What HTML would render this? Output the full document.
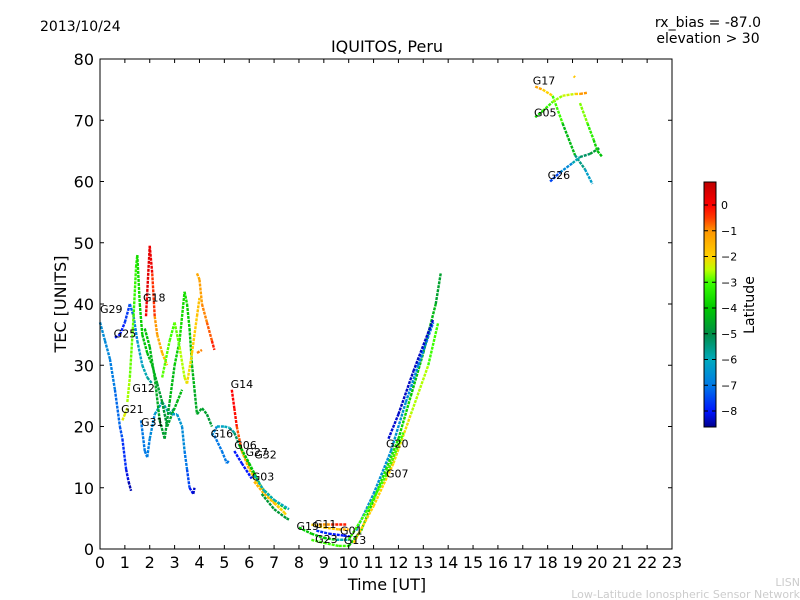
<!DOCTYPE html>
<html><head><meta charset="utf-8"><style>
body{margin:0;background:#fff;}
svg{display:block;font-family:"DejaVu Sans","Liberation Sans",sans-serif;}
</style></head><body>
<svg id="chart" width="800" height="600" viewBox="0 0 800 600">
<defs><linearGradient id="jet" x1="0" y1="1" x2="0" y2="0"></linearGradient></defs>
<text x="40" y="31" font-size="14">2013/10/24</text>
<text x="708" y="27" font-size="14" text-anchor="middle">rx_bias = -87.0</text>
<text x="708" y="43" font-size="14" text-anchor="middle">elevation &gt; 30</text>
<text x="387" y="52" font-size="16" text-anchor="middle">IQUITOS, Peru</text>
<text x="387" y="590" font-size="16" text-anchor="middle">Time [UT]</text>
<text x="66" y="304" font-size="16" text-anchor="middle" transform="rotate(-90 66 304)">TEC [UNITS]</text>
<text x="800" y="586" font-size="11" fill="#ccc" text-anchor="end">LISN</text>
<text x="800" y="598" font-size="11" fill="#ccc" text-anchor="end">Low-Latitude Ionospheric Sensor Network</text>
<g id="marks"></g>
<g id="axes"></g>
<rect x="704" y="182" width="12" height="245" fill="url(#jet)" stroke="#000" stroke-width="1"/>
<g id="cbar"></g>
<text x="754" y="305" font-size="14" text-anchor="middle" transform="rotate(-90 754 305)">Latitude</text>
</svg>
<script>
const xTicks=[0,1,2,3,4,5,6,7,8,9,10,11,12,13,14,15,16,17,18,19,20,21,22,23];
const yTicks=[0,10,20,30,40,50,60,70,80];
const cbTicks=[0,-1,-2,-3,-4,-5,-6,-7,-8];
const satNames=["G29","G25","G31","G12","G21","G18","GRN1","YEL1","ORG1","ORG2","CYN1","G16","G16B","G14","G06","G27","ORG3","YEL2","CYN2","DGR1","G01","G11","BLU1","G19","G23","G13B","G13","YEL3","CYN3","G20","G07","LIM1","G17","G05","G26","DOT1","G05B"];
const satTimes=[
[0,0.2,0.4,0.6,0.8,0.9,1.05,1.15,1.25],
[0.6,0.8,1.0,1.2,1.35,1.5,1.7,1.9,2.1],
[1.65,1.8,1.9,2.0,2.2,2.5,2.8,3.0],
[1.1,1.2,1.35,1.45,1.5,1.6,1.7,1.9,2.1,2.3,2.5,2.7,2.9,3.1,3.3],
[0.9,1.0,1.1],
[1.85,1.9,2.0,2.1,2.2,2.3,2.5,2.7],
[1.8,2.0,2.2,2.4,2.6,2.8,3.0,3.2,3.4,3.5,3.6,3.7,3.8,3.9,4.1,4.3,4.5],
[2.5,2.8,3.0,3.2,3.4,3.5,3.7,3.9,4.0],
[3.9,4.0,4.1,4.3,4.5,4.6],
[3.9,4.1],
[2.9,3.1,3.3,3.4,3.5,3.6,3.75,3.8],
[4.5,4.7,5.0,5.2,5.4,5.6,5.9,6.2],
[4.6,4.9,5.1,5.2],
[5.3,5.4,5.5,5.7,6.0,6.3],
[5.4,5.7,6.1],
[5.6,6.0,6.5,7.0,7.5],
[6.2,6.6,7.0,7.4],
[6.3,6.8,7.4,7.5],
[6.2,6.6,7.0,7.6],
[6.5,7.0,7.5,7.6],
[8.8,9.3,9.9],
[8.5,9.0,9.6,10.0],
[8.7,9.2,9.8,10.1],
[8.0,8.5,9.0,9.5,10.0],
[8.5,9.0,9.6,10.0],
[9.5,10.0],
[10.0,10.5,11,11.5,12,12.5,13,13.5,13.7],
[10.2,11,11.8,12.5,13.2,13.6],
[10.3,11,11.7,12.3,12.8,13.4],
[11.6,12.0,12.6,13.4],
[11.5,11.8,12.0],
[10.0,10.7,11.5,12.2],
[17.5,17.8,18.2,18.6,19.1,19.5,19.8],
[17.5,17.8,18.2,18.6,19.1,19.3,19.6],
[18.1,18.5,19.0,19.3,19.7,20.1],
[19.05,19.1],
[19.3,19.6,19.85,20.0,20.2]
];
const satTec=[
[37,34,31,26,20,18,13,11,9.5],
[34.5,35,37,40,38,34,30,28,27],
[21,16,15,18,22,24,22,23],
[24,28,38,46,48,40,35,32,30,27,24,20,22,24,26],
[21,22,23],
[38,42,49.5,45,38,35,32,30],
[36,33,28,21,18,24,30,34,42,40,36,30,26,22,23,22,20],
[28,34,37,33,28,27,32,38,41],
[45,44,40,37,34,32.5],
[32,32.5],
[22,22,20,16,13,10,9,10],
[18.5,20,20,19.8,19,17,14.5,12],
[18.5,16,14,14.5],
[26,23,20,16,13,11],
[16,14,11.5],
[17,14,10,8,6.5],
[11,9,7.5,6],
[11,8.5,6,5.5],
[12,9.5,8,6.5],
[9,6.5,5,4.8],
[4,4,4],
[4,3.5,3.2,3.2],
[3,2.5,2.2,2],
[3.5,2.5,1.8,1.5,1.5],
[1.5,1,0.5,0.5],
[1.5,1.5],
[0.5,3,8,13,18,25,32,40,45],
[1,7,14,22,30,37],
[3,9,16,24,30,37],
[18,22,29,37.5],
[12,15,17],
[1.5,6,12,19],
[75.5,75,74,69.5,64.3,62,59.6],
[70.5,71.5,73,74,74.3,74.3,74.5],
[60,61.5,63,64,64.5,65.5],
[77.2,77],
[72.8,69.5,66.8,65,64]
];
const satLat=[
[-6.6,-6.6,-6.8,-7,-7.3,-7.5,-8,-8.3,-8.5],
[-8,-8,-7.8,-7.5,-7,-6.5,-6,-5.8,-5.5],
[-7,-7,-7,-6.8,-6.5,-6,-5.5,-5.5],
[-2.5,-2.7,-3,-3.3,-3.5,-3.8,-4,-4.2,-4.3,-4.6,-4.8,-4.8,-4.5,-4.3,-4.2],
[-2.2,-2.3,-2.4],
[0,0.3,0.5,0,-0.8,-1.2,-1.5,-1.8],
[-4,-4.2,-4.4,-4.6,-4.8,-4.5,-4,-3.8,-3.5,-3.7,-4,-4.2,-4.4,-4.6,-4.6,-4.7,-4.8],
[-2.8,-3,-3,-2.7,-2.4,-2.2,-2,-1.8,-1.6],
[-1.3,-1.3,-1,-0.8,-0.5,0],
[-1,-0.8],
[-6.2,-6.3,-6.5,-6.8,-7.2,-7.8,-8.3,-8.3],
[-7,-6.3,-6,-6,-5.5,-5,-4.8,-4.7],
[-7,-7,-7,-7],
[0,0,-0.2,-1,-2,-2],
[-8,-8,-8],
[-4,-4,-4,-4,-4],
[-1.5,-1.5,-1.5,-1.5],
[-2,-2,-2,-2],
[-6,-6,-6,-6],
[-4.8,-4.8,-4.8,-4.8],
[-1.5,-0.5,0],
[-2,-2,-1.5,-1.5],
[-7.5,-8,-8,-8],
[-4,-4,-4,-4,-4],
[-3,-3,-3,-3],
[-6,-6],
[-4,-4,-3.5,-3.5,-3.5,-4,-4,-4.5,-4.8],
[-2,-2,-2,-2.3,-2.8,-3.2],
[-6.5,-6.5,-6.5,-6.5,-6.7,-7.2],
[-8.2,-8.3,-8.3,-8.3],
[0,-0.5,-1],
[-3,-3,-3,-3],
[-1,-1.5,-2.5,-3.5,-5,-6,-6.5],
[-4,-3.5,-2.8,-2.5,-2.3,-1.5,-0.5],
[-8,-7,-6.3,-5.5,-5,-4.5],
[-1.8,-1.8],
[-2.5,-3,-3.6,-4,-4.2]
];
const labelTexts=["G17","G05","G26","G29","G25","G18","G12","G21","G31","G14","G16","G06","G27","G32","G03","G20","G07","G19","G11","G01","G23","G13"];
const labelT=[17.4,17.45,18.0,0,0.55,1.73,1.3,0.85,1.65,5.25,4.45,5.4,5.85,6.2,6.1,11.5,11.5,7.9,8.6,9.65,8.65,9.8];
const labelTec=[75.8,70.6,60.4,38.5,34.5,40.4,25.6,22.2,20.1,26.3,18.2,16.3,15.2,14.8,11.2,16.6,11.7,3.1,3.4,2.4,1,0.8];

const CLAT=[-8.6,-8,-7,-6,-5,-4,-3,-2.5,-2,-1,-0.5,0,0.9];
const CCOL=[[0,0,140],[0,20,255],[0,120,230],[0,170,190],[0,140,70],[0,200,0],[60,255,0],[190,255,0],[255,210,0],[255,150,0],[255,60,0],[255,0,0],[190,0,0]];

const X0=100,X1=672,Y0=549,Y1=59;
const xs=t=>X0+t/23*(X1-X0);
const ys=v=>Y0-v/80*(Y0-Y1);
const cbY=v=>205-v*25.75;
const NS="http://www.w3.org/2000/svg";
function cmap(lat){
  lat=Math.max(CLAT[0],Math.min(CLAT[CLAT.length-1],lat));
  for(let i=0;i<CLAT.length-1;i++){
    if(lat<=CLAT[i+1]){const f=(lat-CLAT[i])/(CLAT[i+1]-CLAT[i]);
      const c=CCOL[i].map((v,k)=>Math.round(v+(CCOL[i+1][k]-v)*f));
      return `rgb(${c[0]},${c[1]},${c[2]})`;}
  }
  return 'rgb(190,0,0)';
}
function mk(tag,attrs,parent){const e=document.createElementNS(NS,tag);for(const k in attrs)e.setAttribute(k,attrs[k]);parent.appendChild(e);return e;}
const grad=document.getElementById('jet');
CLAT.forEach((l,i)=>{mk('stop',{offset:(l-CLAT[0])/(CLAT[CLAT.length-1]-CLAT[0]),'stop-color':cmap(l)},grad);});
const marks=document.getElementById('marks');
satNames.forEach((n,i)=>{
  const g=mk('g',{},marks);
  
  
  const T=satTimes[i],V=satTec[i],L=satLat[i];
  for(let j=0;j<T.length-1;j++){
    const ln=mk('line',{x1:xs(T[j]),y1:ys(V[j]),x2:xs(T[j+1]),y2:ys(V[j+1]),stroke:cmap((L[j]+L[j+1])/2),'stroke-width':2.4,'stroke-dasharray':'3 1','stroke-linecap':'butt'},g);
    
    
  }
});
labelTexts.forEach((s,i)=>{
  const t=mk('text',{x:xs(labelT[i]),y:ys(labelTec[i]),'font-size':11},marks);
  t.textContent=s;
  
  
});
const ax=document.getElementById('axes');
const fr=mk('rect',{x:X0,y:Y1,width:X1-X0,height:Y0-Y1,fill:'none',stroke:'#000','stroke-width':1},ax);


xTicks.forEach(v=>{
  const x=xs(v);
  mk('line',{x1:x,y1:Y0,x2:x,y2:Y0-4,stroke:'#000'},ax);
  mk('line',{x1:x,y1:Y1,x2:x,y2:Y1+4,stroke:'#000'},ax);
  const t=mk('text',{x:x,y:Y0+19,'font-size':16,'text-anchor':'middle'},ax);
  t.textContent=v;
  
  
});
yTicks.forEach(v=>{
  const y=ys(v);
  mk('line',{x1:X0,y1:y,x2:X0+4,y2:y,stroke:'#000'},ax);
  mk('line',{x1:X1,y1:y,x2:X1-4,y2:y,stroke:'#000'},ax);
  const t=mk('text',{x:X0-6,y:y+6,'font-size':16,'text-anchor':'end'},ax);
  t.textContent=v;
  
  
});
const cb=document.getElementById('cbar');
cbTicks.forEach(v=>{
  const y=cbY(v);
  mk('line',{x1:704,y1:y,x2:708,y2:y,stroke:'#000'},cb);
  mk('line',{x1:716,y1:y,x2:712,y2:y,stroke:'#000'},cb);
  const t=mk('text',{x:721,y:y+4,'font-size':11},cb);
  t.textContent=v===0?'0':'\u2212'+Math.abs(v);
  
  
});
</script>
</body></html>
